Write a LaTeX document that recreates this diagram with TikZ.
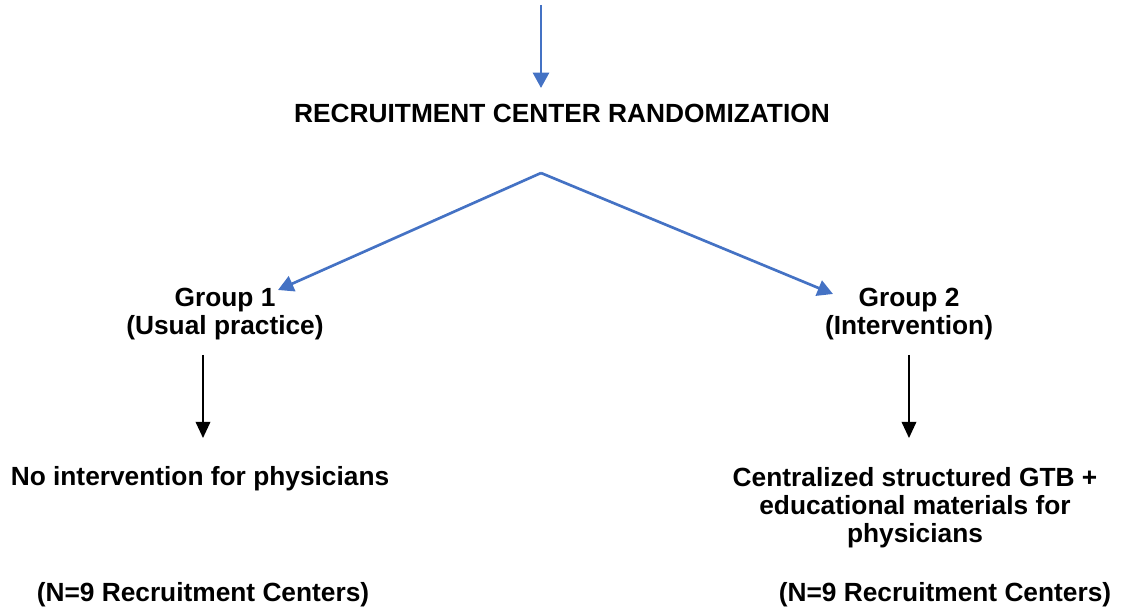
\documentclass[tikz,border=0pt]{standalone}
\usepackage{fontspec}
\setmainfont{Liberation Sans}
\usepackage{xcolor}
\usetikzlibrary{arrows.meta}
\definecolor{flowblue}{HTML}{4472C4}
\tikzset{
  txt/.style    = {inner sep=0pt, align=center,
                   font=\bfseries\fontsize{18.7}{19.8}\selectfont},
  barrow/.style = {line width=1.9pt, draw=flowblue,
                   -{Triangle[length=11pt,width=11.5pt]}},
  karrow/.style = {line width=1.2pt, -{Triangle[length=11.5pt,width=10.4pt]}},
}

\begin{document}
\begin{tikzpicture}[x=0.025cm, y=-0.025cm]

    \useasboundingbox (0,0) rectangle (1121,610);

    %% Randomization
    \node[txt] (rand) at (562,113) {RECRUITMENT CENTER RANDOMIZATION};

    %% Groups
    \node[txt] (grp1) at (225,314) {Group 1\\(Usual practice)};
    \node[txt] (grp2) at (909,314) {Group 2\\(Intervention)};

    %% Interventions
    \node[txt] (none) at (200,479) {No intervention for physicians};
    \node[txt] (gtb)  at (915,508) {Centralized structured GTB +\\educational materials for\\physicians};

    %% Sample sizes
    \node[txt] (n1) at (203,595) {(N=9 Recruitment Centers)};
    \node[txt] (n2) at (945,595) {(N=9 Recruitment Centers)};

    %% Arrow end points
    \coordinate (in)    at (541,5);
    \coordinate (inend) at (541,88);
    \coordinate (split) at (541,173);
    \coordinate (to1)   at (278,290);
    \coordinate (to2)   at (833,294);
    \coordinate (a1)    at (203,355);
    \coordinate (b1)    at (203,438);
    \coordinate (a2)    at (909,355);
    \coordinate (b2)    at (909,438);

    %% Arrows
    \draw[barrow] (in)    -- (inend);
    \draw[barrow] (split) -- (to1);
    \draw[barrow] (split) -- (to2);
    \draw[karrow] (a1)    -- (b1);
    \draw[karrow] (a2)    -- (b2);

  \end{tikzpicture}
\end{document}
